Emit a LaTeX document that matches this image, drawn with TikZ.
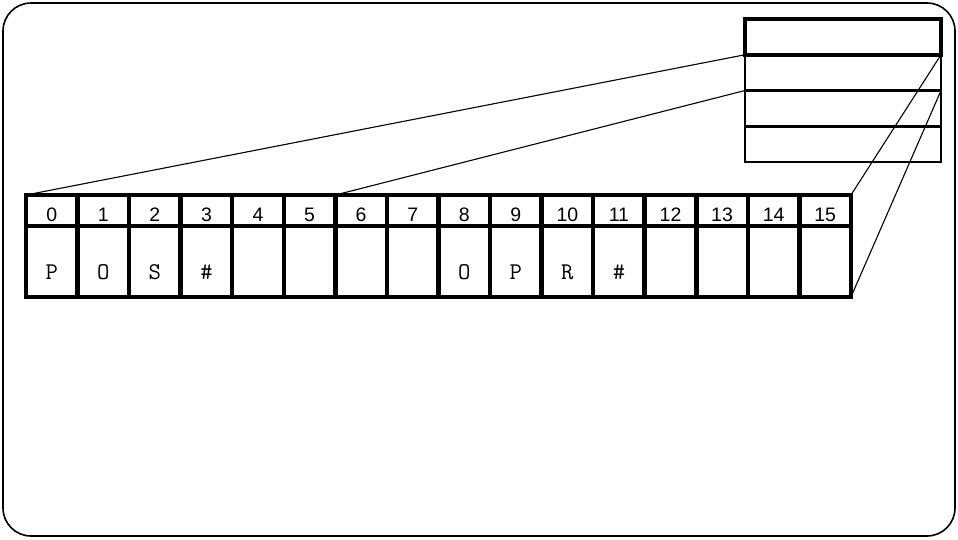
\documentclass[tikz,border=0pt]{standalone}
\usepackage{fontspec}
\newfontfamily\numfont{Liberation Sans}
\usetikzlibrary{positioning}

\begin{document}
\begin{tikzpicture}[x=1pt, y=-1pt,
  frame/.style={line width=1.6pt, rounded corners=28pt},
  hcell/.style={draw, line width=4.5pt, minimum width=51.56pt, minimum height=31pt,
                inner sep=0pt, outer sep=0pt, anchor=north west,
                font=\numfont\fontsize{19.5}{19.5}\selectfont, text height=21pt, text depth=0pt},
  bcell/.style={draw, line width=4.5pt, minimum width=51.56pt, minimum height=71pt,
                inner sep=0pt, outer sep=0pt, anchor=north west,
                font=\ttfamily\fontsize{24}{24}\selectfont, text height=35pt, text depth=0pt},
  row/.style={draw, line width=2.5pt, minimum width=196pt, minimum height=35.75pt,
              inner sep=0pt, outer sep=0pt},
  link/.style={line width=1.1pt}]

\useasboundingbox (0,0) rectangle (958,539);
\draw[frame] (3,3) rectangle (955,536);

% register stack
\node[row, anchor=north west] (r1) at (745,19) {};
\node[row, below=0pt of r1] (r2) {};
\node[row, below=0pt of r2] (r3) {};
\node[row, below=0pt of r3] (r4) {};
\draw[line width=4pt] (r1.south west) rectangle (r1.north east);

% byte strip
\foreach \i/\c in {0/P,1/O,2/S,3/\#,4/{},5/{},6/{},7/{},8/O,9/P,10/R,11/\#,12/{},13/{},14/{},15/{}} {
  \node[hcell] (h\i) at ({26+\i*51.56},195) {\i};
  \node[bcell] (b\i) at ({26+\i*51.56},226) {\c};
}

% zoom lines
\draw[link] (r2.north west) -- (h0.north west);
\draw[link] (r3.north west) -- (h6.north west);
\draw[link] (r2.north east) -- (h15.north east);
\draw[link] (r3.north east) -- (b15.south east);
\end{tikzpicture}
\end{document}
